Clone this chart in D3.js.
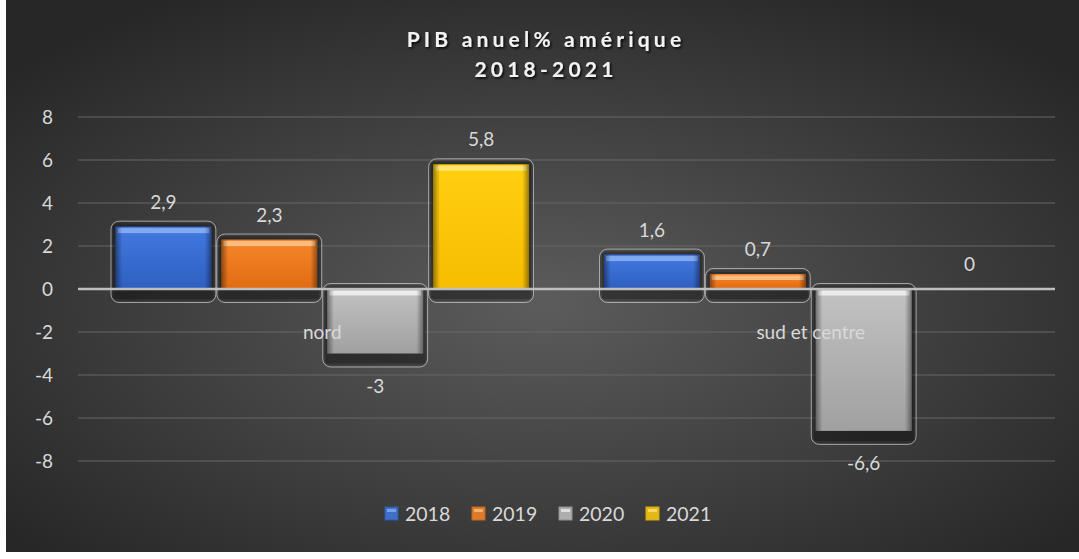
<!DOCTYPE html>
<html><head><meta charset="utf-8">
<script src="https://cdn.jsdelivr.net/npm/d3@7"></script>
<style>html,body{margin:0;padding:0;background:#fff;}svg{display:block}</style>
</head><body>
<svg id="c" width="1079" height="559"></svg>
<script>
const categories = ["nord", "sud et centre"];
const seriesNames = ["2018", "2019", "2020", "2021"];
const values2018 = [2.9, 1.6];
const values2019 = [2.3, 0.7];
const values2020 = [-3, -6.6];
const values2021 = [5.8, 0];
const yTicks = [-8, -6, -4, -2, 0, 2, 4, 6, 8];
const titleLines = ["PIB anuel% amérique", "2018-2021"];
const colors = {
  "2018": ["#8db3f5", "#4279e0", "#2f5fc0"],
  "2019": ["#ffc890", "#f7862a", "#e06c12"],
  "2020": ["#f2f2f2", "#c2c2c2", "#a0a0a0"],
  "2021": ["#ffe680", "#ffcf10", "#f7bd00"]
};
const seriesValues = [values2018, values2019, values2020, values2021];
const FONT = "Lato, 'Open Sans', sans-serif";

const svg = d3.select("#c");
const defs = svg.append("defs");
const bg = defs.append("radialGradient").attr("id","bg").attr("cx","50%").attr("cy","55%").attr("r","65%");
bg.append("stop").attr("offset","0%").attr("stop-color","#5c5c5c");
bg.append("stop").attr("offset","100%").attr("stop-color","#272727");
seriesNames.forEach(s => {
  const g = defs.append("linearGradient").attr("id","g"+s).attr("x1",0).attr("y1",0).attr("x2",0).attr("y2",1);
  g.append("stop").attr("offset","0%").attr("stop-color",colors[s][1]);
  g.append("stop").attr("offset","100%").attr("stop-color",colors[s][2]);
  const h = defs.append("linearGradient").attr("id","h"+s).attr("x1",0).attr("y1",0).attr("x2",1).attr("y2",0);
  h.append("stop").attr("offset","0%").attr("stop-color","#000").attr("stop-opacity",0.4);
  h.append("stop").attr("offset","7%").attr("stop-color","#000").attr("stop-opacity",0);
  h.append("stop").attr("offset","93%").attr("stop-color","#000").attr("stop-opacity",0);
  h.append("stop").attr("offset","100%").attr("stop-color","#000").attr("stop-opacity",0.4);
});
const shadowF = defs.append("filter").attr("id","ts").attr("x","-10%").attr("y","-30%").attr("width","120%").attr("height","160%");
shadowF.append("feDropShadow").attr("dx",1.5).attr("dy",1.5).attr("stdDeviation",0.8).attr("flood-color","#000").attr("flood-opacity",0.9);

svg.append("rect").attr("x",6).attr("y",0).attr("width",1073).attr("height",552).attr("fill","url(#bg)");

const left = 78, right = 1055;
const y = d3.scaleLinear().domain([-8, 8]).range([461, 117]);
const x0 = d3.scaleBand().domain(categories).range([left, right]).paddingInner(0.133).paddingOuter(0.0665);
const x1 = d3.scaleBand().domain(seriesNames).range([0, x0.bandwidth()]);

// grid
svg.append("g").selectAll("line").data(yTicks.filter(t => t !== 0)).join("line")
  .attr("x1", left).attr("x2", right).attr("y1", d => y(d)).attr("y2", d => y(d))
  .attr("stroke", "#666").attr("stroke-width", 1);

// y axis labels
const yAxis = d3.axisLeft(y).tickValues(yTicks).tickSize(0).tickPadding(0).tickFormat(d => String(d));
const ya = svg.append("g").attr("transform", `translate(53,0)`).call(yAxis);
ya.select(".domain").remove();
ya.selectAll("text").attr("fill", "#d9d9d9").style("font-family", FONT).style("font-size", "19px");

const fmt = v => String(v).replace(".", ",");

// bars
const bars = [];
categories.forEach((c, ci) => {
  seriesNames.forEach((s, si) => {
    bars.push({c, s, v: seriesValues[si][ci]});
  });
});
const bg2 = svg.append("g");
bars.forEach(d => {
  const bx = x0(d.c) + x1(d.s);
  const bw = x1.bandwidth();
  const top = y(Math.max(0, d.v)), bot = y(Math.min(0, d.v));
  const h = bot - top;
  if (d.v === 0) return;
  const g = bg2.append("g");
  g.append("rect").attr("x", bx + 1).attr("y", top - 4).attr("width", bw - 2).attr("height", h + 16)
    .attr("rx", 7).attr("fill", "rgba(0,0,0,0.22)");
  g.append("rect").attr("x", bx + 0.5).attr("y", top - 5.5).attr("width", bw - 1).attr("height", h + 19)
    .attr("rx", 8).attr("fill", "none").attr("stroke", "rgba(215,215,215,0.65)").attr("stroke-width", 1);
  g.append("rect").attr("x", bx + 3).attr("y", top - 2).attr("width", bw - 6).attr("height", h + 12)
    .attr("rx", 3).attr("fill", "rgba(0,0,0,0.22)");
  g.append("rect").attr("x", bx + 5).attr("y", top).attr("width", bw - 10).attr("height", h)
    .attr("fill", `url(#g${d.s})`);
  g.append("rect").attr("x", bx + 7).attr("y", top + 1.5).attr("width", bw - 14).attr("height", Math.min(5, h * 0.3))
    .attr("fill", colors[d.s][0]).attr("opacity", 0.85);
  g.append("rect").attr("x", bx + 5).attr("y", top).attr("width", bw - 10).attr("height", h)
    .attr("fill", `url(#h${d.s})`);
});

// zero line
svg.append("line").attr("x1", left).attr("x2", right).attr("y1", y(0)).attr("y2", y(0))
  .attr("stroke", "#bfbfbf").attr("stroke-width", 2.5);

// data labels
svg.append("g").selectAll("text").data(bars).join("text")
  .attr("x", d => x0(d.c) + x1(d.s) + x1.bandwidth() / 2)
  .attr("y", d => d.v >= 0 ? y(d.v) - 18 : y(d.v) + 39)
  .attr("text-anchor", "middle")
  .attr("fill", "#d9d9d9").style("font-family", FONT).style("font-size", "19px")
  .text(d => fmt(d.v));

// category labels
svg.append("g").selectAll("text").data(categories).join("text")
  .attr("x", d => x0(d) + x0.bandwidth() / 2).attr("y", y(0) + 50)
  .attr("text-anchor", "middle")
  .attr("fill", "#d9d9d9").style("font-family", FONT).style("font-size", "19px")
  .text(d => d);

// title
svg.append("g").selectAll("text").data(titleLines).join("text")
  .attr("x", 546).attr("y", (d, i) => 47 + i * 30)
  .attr("text-anchor", "middle").attr("fill", "#f2f2f2")
  .attr("filter", "url(#ts)")
  .style("font-family", FONT).style("font-size", "21px").style("font-weight", "bold")
  .style("letter-spacing", "4.2px")
  .text(d => d);

// legend
const lx = [385, 472, 559, 646];
const lg = svg.append("g").selectAll("g").data(seriesNames).join("g")
  .attr("transform", (d, i) => `translate(${lx[i]},514)`);
lg.append("rect").attr("x", 0).attr("y", -7).attr("width", 13).attr("height", 13)
  .attr("fill", d => colors[d][1]).attr("stroke", d => colors[d][2]).attr("stroke-width", 1).attr("opacity", 0.85);
lg.append("rect").attr("x", 2).attr("y", -5).attr("width", 9).attr("height", 3)
  .attr("fill", d => colors[d][0]).attr("opacity", 0.7);
lg.append("text").attr("x", 20).attr("y", 7)
  .attr("fill", "#d9d9d9").style("font-family", FONT).style("font-size", "19.5px")
  .text(d => d);
</script>
</body></html>
